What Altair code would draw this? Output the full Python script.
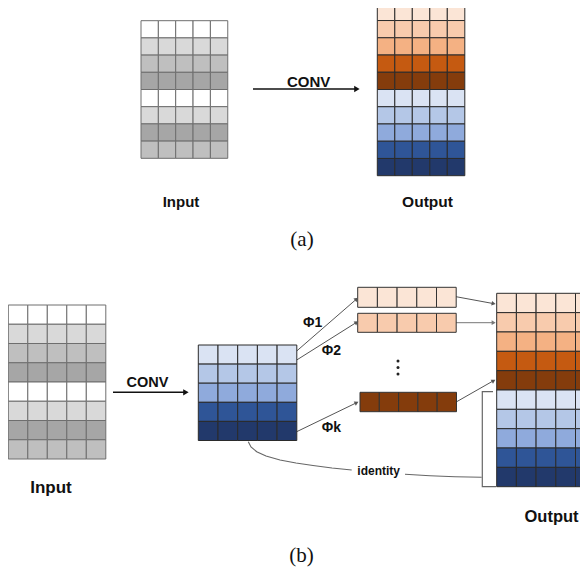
import math
import altair as alt
import pandas as pd

# ---------------- data (colours / labels) ----------------
gray_rows = ["#ffffff", "#d9d9d9", "#bfbfbf", "#a6a6a6", "#ffffff", "#d9d9d9", "#a6a6a6", "#bfbfbf"]
orange_rows = ["#fbe5d6", "#f8cbad", "#f4b183", "#c55a11", "#843c0c"]
blue_rows = ["#dae3f3", "#b4c7e7", "#8faadc", "#2f5597", "#22396b"]
n_cols = 5

labels_bold = ["CONV", "CONV", "Input", "Output", "Input", "Output", "Φ1", "Φ2", "Φk", "identity"]
labels_serif = ["(a)", "(b)"]

# ---------------- layout (pixel positions in the picture) ----------------
grids = [
    # name, x0, y0, cell w, row h, rows colours, stroke
    ("top_in", 141.0, 20.7, 17.35, 17.2, gray_rows, "#6e6e6e"),
    ("top_out", 377.3, 3.3, 17.5, 17.24, orange_rows + blue_rows, "#2b2b2b"),
    ("bot_in", 8.3, 305.0, 19.5, 19.25, gray_rows, "#6e6e6e"),
    ("blue", 198.3, 345.0, 19.7, 19.1, blue_rows, "#2b2b2b"),
    ("vec1", 357.7, 287.3, 19.7, 20.0, [orange_rows[0]], "#333333"),
    ("vec2", 357.7, 313.3, 19.7, 19.0, [orange_rows[1]], "#333333"),
    ("veck", 360.0, 392.3, 19.3, 19.4, [orange_rows[4]], "#333333"),
    ("bot_out", 496.7, 293.3, 19.7, 19.34, orange_rows + blue_rows, "#2b2b2b"),
]

cells = []
for name, x0, y0, cw, rh, cols, stroke in grids:
    for r, c in enumerate(cols):
        for k in range(n_cols):
            cells.append(dict(g=name, x=x0 + k * cw, x2=x0 + (k + 1) * cw,
                              y=y0 + r * rh, y2=y0 + (r + 1) * rh, fill=c, stroke=stroke))
cells = pd.DataFrame(cells)

# polylines: id, colour, width, points
polys = [
    ("conv_a", "#111111", 1.6, [(253, 89), (356, 89)]),
    ("conv_b", "#111111", 1.6, [(113, 392.3), (185, 392.3)]),
    ("phi1", "#555555", 1.0, [(296.7, 351), (356, 299.5)]),
    ("phi2", "#555555", 1.0, [(296.7, 360), (356, 322.7)]),
    ("phik", "#555555", 1.0, [(296.7, 431.7), (356, 403)]),
    ("o1", "#555555", 1.0, [(456, 296.7), (493, 303.5)]),
    ("o2", "#777777", 1.0, [(456, 322.7), (493, 322.7)]),
    ("ok", "#555555", 1.0, [(456.7, 401.7), (493, 381)]),
    ("bracket", "#666666", 1.2, [(493, 391.7), (482.3, 391.7), (482.3, 486.7), (496, 486.7)]),
    ("ident1", "#666666", 1.1, [(248.3, 441.7), (251, 447), (256.7, 451.7), (266, 456), (280, 460),
                                 (296, 463), (313, 465.5), (332, 468), (351.7, 470)]),
    ("ident2", "#666666", 1.1, [(405, 474.3), (430, 475.8), (455, 476.8), (481.7, 477.3)]),
]
line_rows = []
for pid, col, w, pts in polys:
    for i, (px, py) in enumerate(pts):
        line_rows.append(dict(id=pid, col=col, w=w, o=i, x=px, y=py))
lines = pd.DataFrame(line_rows)

# arrow heads at the end of each arrow line
heads = []
for pid, col, w, pts in polys:
    if pid.startswith(("conv", "phi", "o")):
        (ax, ay), (bx, by) = pts[-2], pts[-1]
        dx, dy = bx - ax, by - ay
        ang = math.degrees(math.atan2(dx, -dy)) % 360
        big = pid.startswith("conv")
        heads.append(dict(x=bx, y=by, angle=ang, col=col, size=40 if big else 22))
heads = pd.DataFrame(heads)

dots = pd.DataFrame(dict(x=[398, 398, 398], y=[361, 367.5, 374]))

txt_bold = pd.DataFrame(dict(
    t=labels_bold,
    x=[308.7, 147.5, 181, 427.5, 51, 551.5, 312.7, 331.3, 331.3, 378.7],
    y=[82, 382.7, 202, 202, 488, 516.7, 322.7, 351, 427.7, 471],
    s=[15, 14.5, 15, 15.5, 17, 16.5, 14, 14, 14, 12],
))
txt_serif = pd.DataFrame(dict(t=labels_serif, x=[302, 301.5], y=[240, 555.5]))

# ---------------- chart ----------------
# plot area starts at page pixel (8, 8); keep one data unit = one page pixel
W, H = 572, 560
xs = alt.Scale(domain=[8, 8 + W], nice=False, zero=False)
ys = alt.Scale(domain=[8, 8 + H], nice=False, zero=False, reverse=True)
X = lambda f="x": alt.X(f, type="quantitative", scale=xs, axis=None)
Y = lambda f="y": alt.Y(f, type="quantitative", scale=ys, axis=None)

rects = alt.Chart(cells).mark_rect(strokeWidth=1, clip=True).encode(
    x=X(), x2="x2", y=Y(), y2="y2",
    fill=alt.Fill("fill:N", scale=None), stroke=alt.Stroke("stroke:N", scale=None))

line_layer = alt.Chart(lines).mark_line(clip=True).encode(
    x=X(), y=Y(), detail="id:N", order="o:Q",
    color=alt.Color("col:N", scale=None), strokeWidth=alt.StrokeWidth("w:Q", scale=None))

head_layer = alt.Chart(heads).mark_point(shape="triangle", filled=True, opacity=1).encode(
    x=X(), y=Y(), angle=alt.Angle("angle:Q", scale=None),
    color=alt.Color("col:N", scale=None), size=alt.Size("size:Q", scale=None))

dot_layer = alt.Chart(dots).mark_circle(size=9, color="#222222", opacity=1).encode(x=X(), y=Y())

bold_layer = alt.Chart(txt_bold).mark_text(
    font="Liberation Sans", fontWeight="bold", align="center", baseline="middle", color="#111111"
).encode(x=X(), y=Y(), text="t:N", size=alt.Size("s:Q", scale=None))

serif_layer = alt.Chart(txt_serif).mark_text(
    font="Liberation Serif", fontSize=21, align="center", baseline="middle", color="#111111"
).encode(x=X(), y=Y(), text="t:N")

chart = alt.layer(line_layer, rects, head_layer, dot_layer, bold_layer, serif_layer).properties(
    width=W, height=H, padding=0, autosize=alt.AutoSizeParams(type="none")
).configure(background="white", view=alt.ViewConfig(stroke=None))

chart.save("out.html", embed_options={"renderer": "svg", "actions": False})
